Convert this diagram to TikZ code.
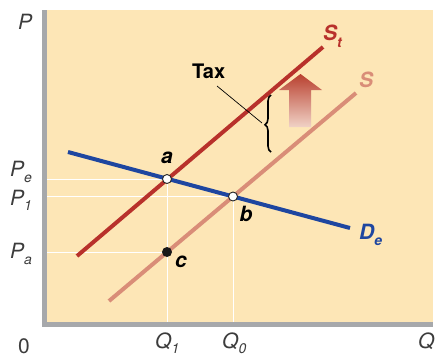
\documentclass[tikz,border=0pt]{standalone}
\usepackage{fontspec}
\setmainfont{TeX Gyre Heros}
\usetikzlibrary{decorations.pathreplacing}
\definecolor{bg}{HTML}{FDE6B6}
\definecolor{axisgray}{HTML}{A6A8AB}
\definecolor{stred}{HTML}{B8312B}
\definecolor{ssalmon}{HTML}{D98D78}
\definecolor{dblue}{HTML}{1E46A0}
\definecolor{arrtop}{HTML}{B9402F}
\definecolor{arrbot}{HTML}{F0D2C6}
\definecolor{axlab}{HTML}{3C3C3C}
\newcommand{\mysub}[2]{\raisebox{-#1}{\fontsize{14}{14}\selectfont #2}}
\begin{document}
\begin{tikzpicture}[x=1pt,y=-1pt,
 curve/.style={line width=4pt},
 guide/.style={white, line width=1pt},
 axlabel/.style={font=\fontsize{21}{21}\selectfont\itshape, text=axlab, inner sep=0, anchor=base west},
 ptlabel/.style={font=\fontsize{21}{21}\selectfont\bfseries\itshape, inner sep=0},
 curvelabel/.style={font=\fontsize{21}{21}\selectfont\bfseries\itshape, inner sep=0, anchor=base west},
 openpt/.style={circle, draw=black!85, fill=white, line width=0.9pt, minimum size=9pt, inner sep=0},
 solidpt/.style={circle, fill=black!90, minimum size=10pt, inner sep=0},
]
\useasboundingbox (0,0) rectangle (435,357);
% panel and axes
\fill[bg] (45,10) rectangle (433,324);
\fill[axisgray] (42,10) rectangle (47,327);
\fill[axisgray] (42,322) rectangle (433,327);
% coordinates
\coordinate (pa0) at (47,179);
\coordinate (p10) at (47,196.5);
\coordinate (paa) at (47,252);
\coordinate (q1b) at (167,322);
\coordinate (q0b) at (233,322);
\coordinate (d1) at (68,152);
\coordinate (d2) at (350,228);
\coordinate (st1) at (77,256);
\coordinate (st2) at (323,47);
\coordinate (s1) at (109,301);
\coordinate (s2) at (356,93);
\coordinate (ptA) at (167,179);
\coordinate (ptB) at (233,196.5);
\coordinate (ptC) at (167,252);
% guide lines
\draw[guide] (pa0) -- (ptA);
\draw[guide] (p10) -- (ptB);
\draw[guide] (paa) -- (ptC);
\draw[guide] (ptA) -- (q1b);
\draw[guide] (ptB) -- (q0b);
% curves
\draw[curve, ssalmon] (s1) -- (s2);
\draw[curve, stred] (st1) -- (st2);
\draw[curve, dblue] (d1) -- (d2);
% points
\node[openpt] (a) at (ptA) {};
\node[openpt] (b) at (ptB) {};
\node[solidpt] (c) at (ptC) {};
% point labels
\node[ptlabel] (la) at (167,158) {a};
\node[ptlabel] (lb) at (246,214) {b};
\node[ptlabel] (lc) at (181,262) {c};
% curve labels
\node[curvelabel, text=stred] (lst) at (323,40) {S\mysub{7pt}{t}};
\node[curvelabel, text=ssalmon] (ls) at (359,87) {S};
\node[curvelabel, text=dblue] (lde) at (359,239) {D\mysub{6pt}{e}};
% tax
\node[font=\fontsize{20}{20}\selectfont\bfseries, inner sep=0, anchor=base west] (tax) at (192,78) {Tax};
\coordinate (lead1) at (217,86);
\coordinate (lead2) at (262,123);
\draw[black, line width=0.7pt] (lead1) -- (lead2);
\draw[black, line width=1.6pt, decorate, decoration={brace, amplitude=6pt, aspect=0.48}] (271,152) -- (271,95);
\shade[top color=arrtop, bottom color=arrbot] (289,127) -- (289,90) -- (279,90) -- (300.5,74) -- (322,90) -- (311,90) -- (311,127) -- cycle;
% axis labels
\node[axlabel] (lp) at (18,29) {P};
\node[axlabel] (lpe) at (10,176) {P\mysub{6pt}{e}};
\node[axlabel] (lp1) at (10,205) {P\mysub{5pt}{1}};
\node[axlabel] (lpa) at (10,258) {P\mysub{6pt}{a}};
\node[axlabel, font=\fontsize{21}{21}\selectfont] (l0) at (18,353) {0};
\node[axlabel] (lq1) at (155,348) {Q\mysub{5pt}{1}};
\node[axlabel] (lq0) at (222,348) {Q\mysub{5pt}{0}};
\node[axlabel] (lq) at (418,348) {Q};
\end{tikzpicture}
\end{document}
